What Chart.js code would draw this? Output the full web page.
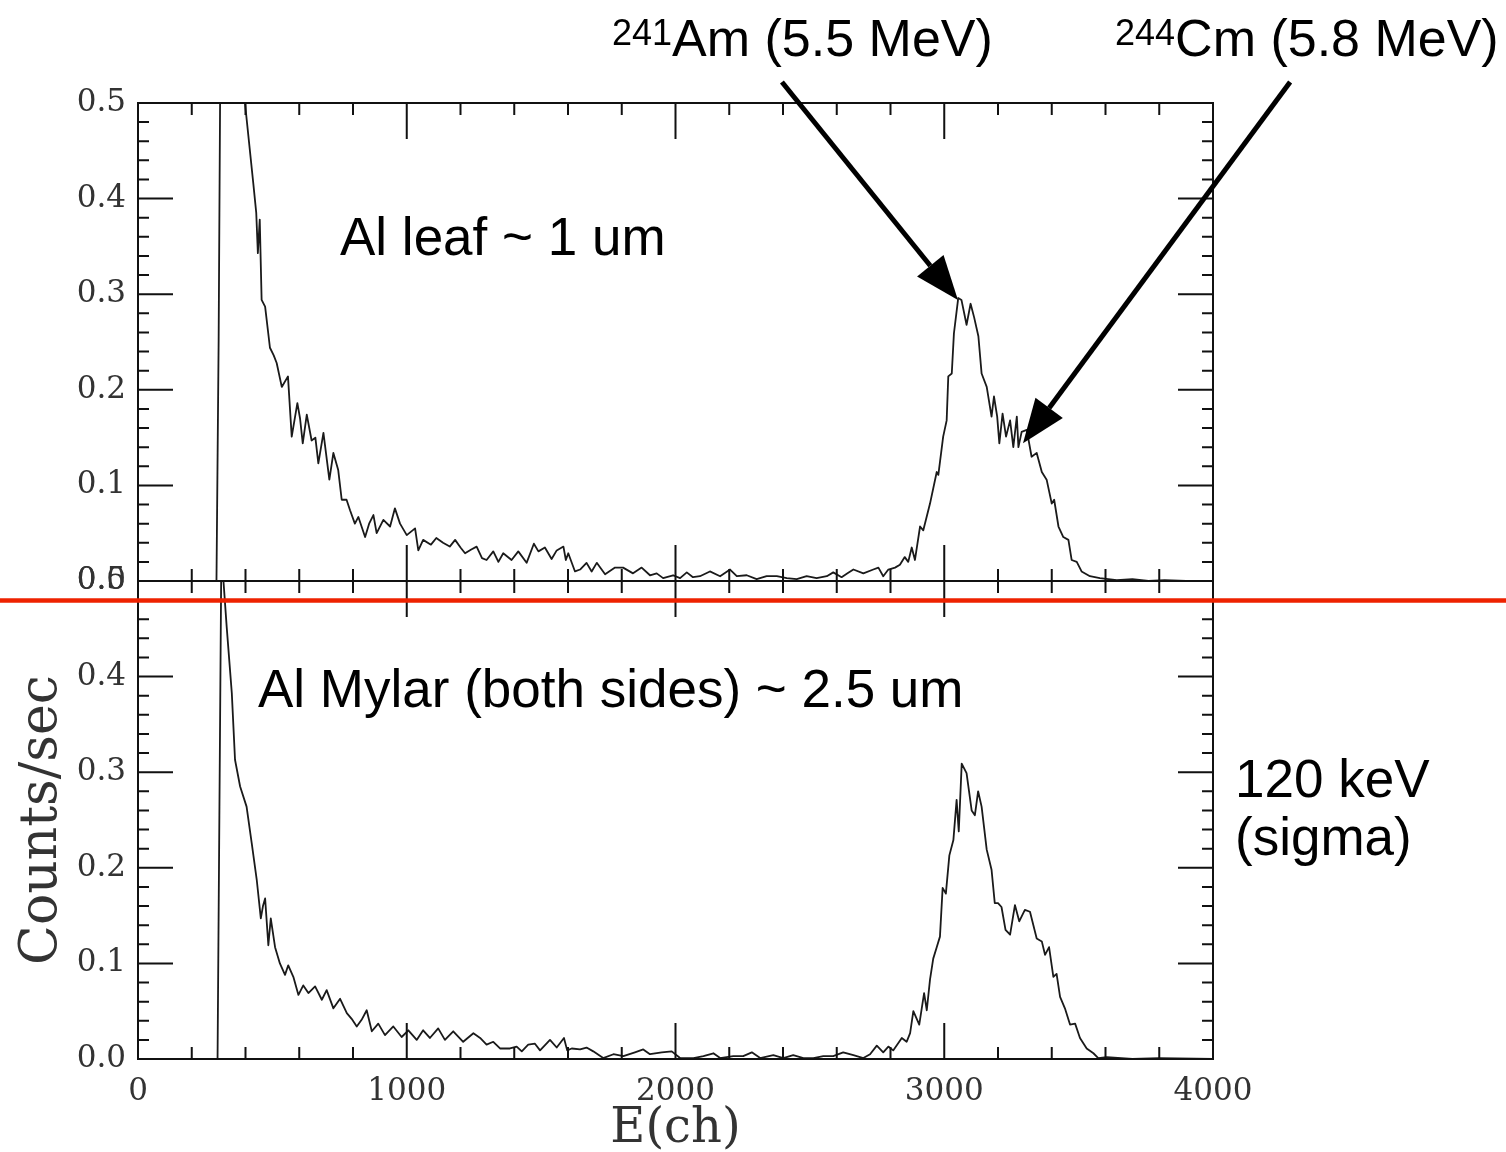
<!DOCTYPE html>
<html>
<head>
<meta charset="utf-8">
<script src="https://cdn.jsdelivr.net/npm/chart.js@4.4.1/dist/chart.umd.min.js"></script>
<style>
  body { margin: 0; background: #fff; }
  #wrap { position: relative; width: 1506px; height: 1152px; overflow: hidden; }
  canvas { position: absolute; left: 0; top: 0; }
  .lab { position: absolute; font-family: "Liberation Sans", Arial, sans-serif; font-size: 53px; line-height: 1; color: #000; white-space: nowrap; }
  .lab.iso { font-size: 52px; }
  .lab .sup { font-size: 36px; vertical-align: 11px; }
</style>
</head>
<body>
<div id="wrap">
  <canvas id="topPanel" width="1506" height="1152"></canvas>
  <canvas id="botPanel" width="1506" height="1152"></canvas>
  <div class="lab iso" style="left:612px;top:12px"><span class="sup">241</span>Am (5.5 MeV)</div>
  <div class="lab iso" style="left:1115px;top:12px"><span class="sup">244</span>Cm (5.8 MeV)</div>
  <div class="lab" style="left:340px;top:210px">Al leaf ~ 1 um</div>
  <div class="lab" style="left:258px;top:662px">Al Mylar (both sides) ~ 2.5 um</div>
  <div class="lab" style="left:1235px;top:752px">120 keV</div>
  <div class="lab" style="left:1235px;top:810px">(sigma)</div>
</div>
<script>
// x axis
const xTicks = [0, 1000, 2000, 3000, 4000]
const xMinorStep = 200
// y axis (both panels)
const yTicks = [0.0, 0.1, 0.2, 0.3, 0.4, 0.5]
const yMinorStep = 0.02

// top panel: Al leaf ~ 1 um  (channel, counts/sec)
const topCh = [0, 280, 292, 300, 308, 330, 360, 385, 398, 429,
  440, 446, 453, 460, 473, 491, 505, 516, 535, 558,
  572, 593, 603, 613, 628, 646, 660, 671, 690, 712,
  727, 745, 758, 776, 789, 807, 820, 845, 860, 876,
  888, 913, 938, 956, 975, 1000, 1031, 1043, 1061, 1090,
  1110, 1135, 1160, 1180, 1200, 1217, 1240, 1260, 1280, 1297,
  1322, 1341, 1359, 1390, 1415, 1446, 1473, 1490, 1514, 1539,
  1558, 1583, 1592, 1601, 1626, 1645, 1669, 1688, 1707, 1738,
  1775, 1805, 1842, 1874, 1905, 1930, 1954, 1991, 2017, 2042,
  2065, 2091, 2128, 2166, 2203, 2228, 2265, 2302, 2339, 2377,
  2414, 2451, 2488, 2525, 2563, 2587, 2618, 2640, 2662, 2699,
  2736, 2755, 2773, 2792, 2817, 2835, 2853, 2866, 2879, 2891,
  2910, 2922, 2947, 2972, 2978, 2996, 3009, 3015, 3028, 3036,
  3052, 3064, 3083, 3098, 3111, 3127, 3139, 3158, 3176, 3185,
  3197, 3205, 3217, 3230, 3245, 3257, 3270, 3276, 3288, 3307,
  3325, 3344, 3363, 3381, 3400, 3409, 3425, 3443, 3462, 3474,
  3493, 3511, 3542, 3579, 3642, 3700, 3760, 3820, 3900, 4000]
const topCts = [0, 0, 0, 0.25, 0.62, 1.1, 0.95, 0.62, 0.50, 0.416,
  0.385, 0.343, 0.378, 0.294, 0.287, 0.244, 0.236, 0.228, 0.203, 0.214,
  0.151, 0.186, 0.170, 0.144, 0.174, 0.147, 0.150, 0.123, 0.155, 0.106,
  0.134, 0.116, 0.085, 0.085, 0.074, 0.060, 0.067, 0.046, 0.060, 0.069,
  0.050, 0.064, 0.057, 0.076, 0.060, 0.048, 0.055, 0.032, 0.043, 0.038,
  0.045, 0.040, 0.036, 0.043, 0.035, 0.029, 0.033, 0.036, 0.024, 0.022,
  0.031, 0.020, 0.029, 0.022, 0.031, 0.019, 0.039, 0.031, 0.035, 0.023,
  0.032, 0.036, 0.022, 0.029, 0.010, 0.012, 0.019, 0.010, 0.019, 0.007,
  0.014, 0.014, 0.008, 0.014, 0.006, 0.008, 0.003, 0.006, 0.003, 0.009,
  0.004, 0.005, 0.010, 0.005, 0.012, 0.005, 0.006, 0.002, 0.005, 0.005,
  0.003, 0.002, 0.005, 0.003, 0.005, 0.009, 0.004, 0.008, 0.012, 0.008,
  0.012, 0.014, 0.005, 0.012, 0.014, 0.017, 0.025, 0.020, 0.035, 0.022,
  0.057, 0.053, 0.081, 0.114, 0.111, 0.151, 0.168, 0.214, 0.217, 0.259,
  0.296, 0.294, 0.268, 0.290, 0.276, 0.256, 0.217, 0.203, 0.172, 0.193,
  0.172, 0.144, 0.175, 0.151, 0.168, 0.140, 0.172, 0.140, 0.156, 0.158,
  0.130, 0.134, 0.114, 0.106, 0.081, 0.085, 0.057, 0.046, 0.043, 0.022,
  0.020, 0.010, 0.005, 0.003, 0.001, 0.002, 0.000, 0.001, 0.000, 0.000]

// bottom panel: Al Mylar (both sides) ~ 2.5 um
const botCh = [0, 285, 296, 304, 311, 318, 330, 349, 361, 380,
  404, 423, 442, 457, 465, 473, 485, 494, 510, 528,
  547, 559, 578, 597, 615, 634, 659, 684, 702, 727,
  752, 777, 795, 814, 832, 851, 870, 894, 919, 950,
  981, 1006, 1037, 1061, 1086, 1117, 1142, 1173, 1210, 1248,
  1273, 1297, 1322, 1347, 1384, 1409, 1428, 1452, 1477, 1496,
  1533, 1558, 1585, 1597, 1614, 1645, 1669, 1694, 1731, 1769,
  1806, 1849, 1880, 1905, 1949, 1986, 2017, 2067, 2104, 2141,
  2166, 2215, 2252, 2284, 2315, 2364, 2401, 2438, 2476, 2513,
  2550, 2587, 2624, 2662, 2699, 2724, 2749, 2773, 2792, 2810,
  2842, 2860, 2873, 2885, 2907, 2925, 2935, 2947, 2959, 2972,
  2984, 2994, 3006, 3019, 3034, 3046, 3054, 3065, 3083, 3102,
  3114, 3126, 3139, 3158, 3176, 3188, 3200, 3213, 3228, 3245,
  3263, 3279, 3300, 3319, 3344, 3363, 3375, 3390, 3406, 3418,
  3431, 3449, 3468, 3487, 3505, 3530, 3555, 3573, 3605, 3700,
  3800, 4000]
const botCts = [0, 0, 0, 0.30, 0.56, 0.50, 0.452, 0.383, 0.313, 0.285,
  0.264, 0.226, 0.187, 0.147, 0.160, 0.168, 0.119, 0.147, 0.117, 0.100,
  0.088, 0.098, 0.086, 0.067, 0.077, 0.069, 0.076, 0.062, 0.072, 0.053,
  0.063, 0.048, 0.042, 0.034, 0.041, 0.051, 0.029, 0.037, 0.025, 0.034,
  0.023, 0.030, 0.020, 0.030, 0.022, 0.032, 0.020, 0.029, 0.018, 0.027,
  0.022, 0.015, 0.018, 0.011, 0.011, 0.013, 0.008, 0.015, 0.016, 0.009,
  0.020, 0.012, 0.022, 0.009, 0.011, 0.010, 0.012, 0.008, 0.001, 0.005,
  0.003, 0.007, 0.010, 0.005, 0.007, 0.008, 0.001, 0.001, 0.003, 0.006,
  0.001, 0.003, 0.003, 0.007, 0.001, 0.004, 0.001, 0.004, 0.001, 0.001,
  0.003, 0.003, 0.007, 0.004, 0.001, 0.005, 0.014, 0.007, 0.013, 0.009,
  0.022, 0.018, 0.027, 0.050, 0.036, 0.069, 0.051, 0.083, 0.105, 0.117,
  0.128, 0.179, 0.173, 0.213, 0.229, 0.271, 0.238, 0.309, 0.299, 0.260,
  0.255, 0.280, 0.264, 0.219, 0.198, 0.163, 0.163, 0.159, 0.135, 0.130,
  0.161, 0.144, 0.156, 0.154, 0.126, 0.123, 0.109, 0.117, 0.086, 0.089,
  0.065, 0.053, 0.036, 0.037, 0.022, 0.011, 0.006, 0.001, 0.002, 0.000,
  0.001, 0.000]

// arrows in the top panel, given in data units (start -> tip)
const arrowFrom = [[2396, 0.522], [4287, 0.522]]
const arrowTo = [[3051, 0.294], [3293, 0.144]]

const tickFont = { family: 'DejaVu Serif', size: 31 }
const inkColor = '#1a1a1a'

// frame plus inward ticks on all four sides, like the original plot
const frameTicks = {
  id: 'frameTicks',
  afterDatasetsDraw(chart) {
    const { ctx, chartArea: a, scales: { x, y } } = chart
    ctx.save()
    ctx.strokeStyle = '#111'
    ctx.lineWidth = 2
    ctx.strokeRect(a.left, a.top, a.right - a.left, a.bottom - a.top)
    ctx.beginPath()
    for (let v = xTicks[0]; v <= xTicks[xTicks.length - 1]; v += xMinorStep) {
      const len = xTicks.includes(v) ? 36 : 12
      const px = x.getPixelForValue(v)
      ctx.moveTo(px, a.bottom); ctx.lineTo(px, a.bottom - len)
      ctx.moveTo(px, a.top); ctx.lineTo(px, a.top + len)
    }
    const nMinor = Math.round(0.5 / yMinorStep)
    for (let i = 0; i <= nMinor; i++) {
      const len = i % 5 === 0 ? 35 : 11
      const py = y.getPixelForValue(i * yMinorStep)
      ctx.moveTo(a.left, py); ctx.lineTo(a.left + len, py)
      ctx.moveTo(a.right, py); ctx.lineTo(a.right - len, py)
    }
    ctx.stroke()
    ctx.restore()
  }
}

const arrows = {
  id: 'arrows',
  afterDraw(chart) {
    if (chart.canvas.id !== 'topPanel') return
    const { ctx, scales: { x, y } } = chart
    ctx.save()
    ctx.strokeStyle = '#000'
    ctx.fillStyle = '#000'
    ctx.lineWidth = 5
    for (let i = 0; i < arrowFrom.length; i++) {
      const x1 = x.getPixelForValue(arrowFrom[i][0]), y1 = y.getPixelForValue(arrowFrom[i][1])
      const x2 = x.getPixelForValue(arrowTo[i][0]), y2 = y.getPixelForValue(arrowTo[i][1])
      const ang = Math.atan2(y2 - y1, x2 - x1)
      const headLen = 44, headW = 17
      const bx = x2 - headLen * Math.cos(ang), by = y2 - headLen * Math.sin(ang)
      ctx.beginPath()
      ctx.moveTo(x1, y1); ctx.lineTo(bx, by)
      ctx.stroke()
      ctx.beginPath()
      ctx.moveTo(x2, y2)
      ctx.lineTo(bx + headW * Math.sin(ang), by - headW * Math.cos(ang))
      ctx.lineTo(bx - headW * Math.sin(ang), by + headW * Math.cos(ang))
      ctx.closePath()
      ctx.fill()
    }
    ctx.restore()
  }
}

// red separator drawn across the whole figure
const redLine = {
  id: 'redLine',
  afterDraw(chart) {
    if (chart.canvas.id !== 'botPanel') return
    const { ctx } = chart
    ctx.save()
    ctx.strokeStyle = '#ee2200'
    ctx.lineWidth = 4.5
    ctx.beginPath()
    ctx.moveTo(0, 600.5)
    ctx.lineTo(chart.width, 600.5)
    ctx.stroke()
    ctx.restore()
  }
}

function makePanel(id, ch, cts, isBottom) {
  const points = ch.map((c, i) => ({ x: c, y: cts[i] }))
  return new Chart(document.getElementById(id), {
    type: 'line',
    data: {
      datasets: [{
        data: points,
        borderColor: inkColor,
        borderWidth: 1.8,
        borderJoinStyle: 'round',
        pointRadius: 0,
        tension: 0,
        fill: false
      }]
    },
    options: {
      responsive: false,
      animation: false,
      layout: { padding: { left: 0, right: 293, top: isBottom ? 581 : 103, bottom: isBottom ? 0 : 571 } },
      plugins: { legend: { display: false }, tooltip: { enabled: false } },
      scales: {
        x: {
          type: 'linear',
          display: isBottom,
          min: xTicks[0],
          max: xTicks[xTicks.length - 1],
          afterBuildTicks: s => { s.ticks = xTicks.map(v => ({ value: v })) },
          afterFit: s => { s.height = isBottom ? 93 : 0 },
          ticks: { font: tickFont, color: '#333', padding: 14, maxRotation: 0, callback: v => String(v) },
          grid: { display: false, drawTicks: false },
          border: { display: false },
          title: { display: true, text: 'E(ch)', font: { family: 'DejaVu Serif', size: 48 }, color: '#333', padding: { top: 0, bottom: -6 } }
        },
        y: {
          min: 0,
          max: 0.5,
          afterBuildTicks: s => { s.ticks = yTicks.map(v => ({ value: v })) },
          afterFit: s => { s.width = 138 },
          ticks: { font: tickFont, color: '#333', padding: 12, callback: v => v.toFixed(1) },
          grid: { display: false, drawTicks: false },
          border: { display: false },
          title: { display: isBottom, text: 'Counts/sec', font: { family: 'DejaVu Serif', size: 52 }, color: '#333', padding: { top: 11, bottom: 0 } }
        }
      }
    },
    plugins: [frameTicks, arrows, redLine]
  })
}

makePanel('topPanel', topCh, topCts, false)
makePanel('botPanel', botCh, botCts, true)
</script>
</body>
</html>
